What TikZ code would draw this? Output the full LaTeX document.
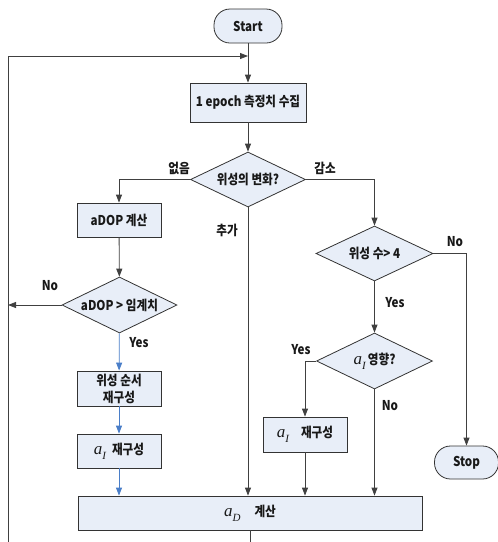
\documentclass[tikz,border=0pt]{standalone}
\usepackage{fontspec}
\usetikzlibrary{shapes.geometric,arrows.meta}
\newfontfamily\kr{Noto Sans CJK KR Black}[FakeStretch=0.86]
\newfontfamily\tmf{Liberation Serif}
\newcommand{\av}[1]{{\tmf\itshape\fontsize{17}{17}\selectfont a\raisebox{-0.28em}{\fontsize{11}{11}\selectfont #1}}}
\definecolor{boxfill}{HTML}{E8EEF8}
\definecolor{lin}{HTML}{404040}
\definecolor{blu}{HTML}{4A7EC8}
\begin{document}
\begin{tikzpicture}[x=1pt,y=-1pt,
 every node/.style={font=\kr\fontsize{13.5}{17}\selectfont, text=black!90},
 box/.style={draw=black!80, fill=boxfill, line width=0.8pt, minimum width=84pt, minimum height=34pt, inner sep=0pt, align=center},
 dia/.style={diamond, draw=black!80, fill=boxfill, line width=0.8pt, minimum width=116pt, minimum height=55pt, inner sep=0pt, aspect=2.1},
 term/.style={draw=black!80, fill=boxfill, line width=0.8pt, rounded corners=16pt, minimum width=68pt, minimum height=34pt, inner sep=0pt},
 ln/.style={draw=lin, line width=0.8pt},
 arr/.style={ln, -{Triangle[length=8pt,width=6pt]}},
 barr/.style={draw=blu, line width=0.8pt, -{Triangle[length=8pt,width=6pt]}},
 lbl/.style={inner sep=0pt}
]
\useasboundingbox (0,0) rectangle (498,542);
% nodes
\node[term] (start) at (248,26) {Start};
\node[box, minimum width=116pt, minimum height=39pt] (b1) at (248,102.5) {1 epoch 측정치 수집};
\node[dia, minimum width=115pt] (d1) at (248,179.5) {위성의 변화?};
\node[box] (adop) at (119,220) {aDOP 계산};
\node[dia, minimum width=115pt, minimum height=56pt] (d2) at (119.5,305) {aDOP > 임계치};
\node[dia, minimum width=117pt] (d3) at (374.5,253.5) {위성 수> 4};
\node[box, minimum height=35pt] (seq) at (119,388.5) {위성 순서\\재구성};
\node[box] (ail) at (119,451) {\av{I}\hspace{6pt}재구성};
\node[box, minimum width=344pt] (aD) at (250,513) {\av{D}\hspace{14pt}계산};
\node[dia, minimum height=56pt] (d4) at (374.5,361) {\av{I}\,영향?};
\node[box, minimum height=35pt] (air) at (305,434.5) {\av{I}\hspace{12pt}재구성};
\node[term, minimum width=64pt, minimum height=33pt] (stop) at (466.5,462.5) {Stop};
% labels
\node[lbl] (l1) at (179,168) {없음};
\node[lbl] (l2) at (325,168) {감소};
\node[lbl] (l3) at (227,230) {추가};
\node[lbl] (l4) at (455,242) {No};
\node[lbl] (l5) at (50,286) {No};
\node[lbl] (l6) at (139,343) {Yes};
\node[lbl] (l7) at (395,303) {Yes};
\node[lbl] (l8) at (301,350) {Yes};
\node[lbl] (l9) at (390,406) {No};
% coordinates
\coordinate (jn) at (248,56);
\coordinate (tl) at (8,56);
\coordinate (bl) at (8,542);
\coordinate (nl) at (8,305);
\coordinate (bot) at (250,542);
% connectors
\draw[ln] (start) -- (jn);
\draw[arr] (jn) -- (b1);
\draw[arr] (bl) -- (tl) -- (jn);
\draw[arr] (b1) -- (d1);
\draw[arr] (d1.west) -| (adop.north);
\draw[arr] (d1.east) -| (d3.north);
\draw[arr] (d1.south) -- (d1.south |- aD.north);
\draw[arr] (adop) -- (d2);
\draw[arr] (d2.west) -- (nl);
\draw[barr] (d2) -- (seq);
\draw[barr] (seq) -- (ail);
\draw[barr] (ail.south) -- (ail.south |- aD.north);
\draw[arr] (d3.east) -| (stop.north);
\draw[arr] (d3) -- (d4);
\draw[arr] (d4.west) -| (air.north);
\draw[arr] (d4.south) -- (d4.south |- aD.north);
\draw[arr] (air) -- (air.south |- aD.north);
\draw[ln] (aD.south) -- (bot);
\end{tikzpicture}
\end{document}
